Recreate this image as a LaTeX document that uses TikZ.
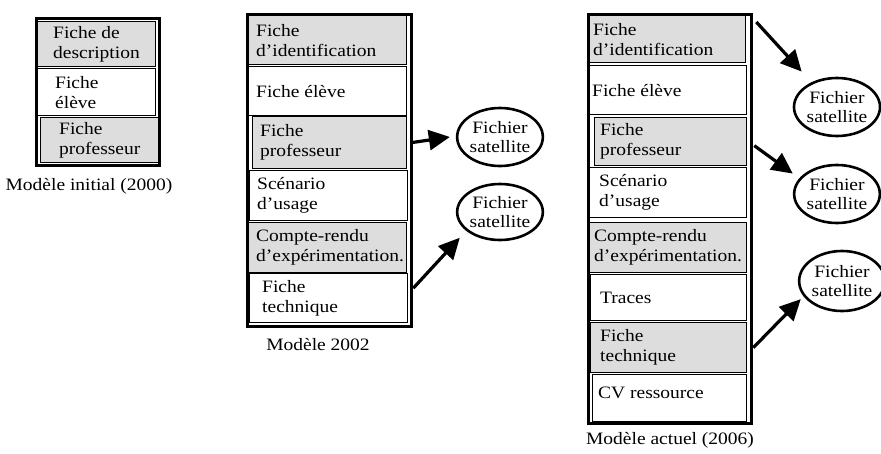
\documentclass[tikz,border=0pt]{standalone}
\usepackage{fontspec}
\setmainfont[FakeStretch=1.12]{Liberation Serif}
\usetikzlibrary{positioning,arrows.meta,shapes.geometric}
\definecolor{cellgray}{RGB}{221,221,221}
\tikzset{
  frame/.style={draw, line width=3.2pt, anchor=north west, inner sep=0pt},
  cell/.style={draw, line width=1.3pt, anchor=north west, inner sep=0pt},
  txt/.style={align=left, inner sep=0pt, font=\fontsize{17.4}{20}\selectfont},
  sat/.style={ellipse, draw, line width=2.6pt, inner sep=0pt, align=center,
    font=\fontsize{17.4}{19}\selectfont},
  arr/.style={line width=3.2pt, -{Triangle[length=21pt,width=20pt]}},
}
\begin{document}
\begin{tikzpicture}[x=1pt,y=1pt]
  \useasboundingbox (0,0) rectangle (881,-453);
  % Modele initial (2000)
  \node[frame, minimum width=123pt, minimum height=147pt] (m1) at (35,-17) {};
  \node[cell, fill=cellgray, minimum width=118pt, minimum height=45pt] (desc1) at (37,-21) {};
  \node[cell, fill=white, minimum width=118pt, minimum height=47pt] (el1) at (37,-68) {};
  \node[cell, fill=cellgray, minimum width=118pt, minimum height=45pt] (prof1) at (40,-117) {};
  \node[txt, right=16pt of desc1.west] (desc1t) {Fiche de\\description};
  \node[txt, right=18pt of el1.west] (el1t) {Fiche\\élève};
  \node[txt, right=19pt of prof1.west] (prof1t) {Fiche\\professeur};
  \node[txt] (cap1) at (89,-186) {Modèle initial (2000)};
  % Modele 2002
  \node[frame, minimum width=164pt, minimum height=312pt] (m2) at (246,-13) {};
  \node[cell, fill=cellgray, minimum width=158pt, minimum height=49pt] (id2) at (248,-15) {};
  \node[cell, fill=white, minimum width=158pt, minimum height=49pt] (el2) at (248,-66) {};
  \node[cell, fill=cellgray, minimum width=154pt, minimum height=52pt] (prof2) at (252,-116) {};
  \node[cell, fill=white, minimum width=158pt, minimum height=50pt] (scen2) at (249,-170) {};
  \node[cell, fill=cellgray, minimum width=158pt, minimum height=50pt] (cr2) at (248,-222) {};
  \node[cell, fill=white, minimum width=158pt, minimum height=49pt] (tech2) at (249,-273) {};
  \node[txt, right=8pt of id2.west] (id2t) {Fiche\\d’identification};
  \node[txt, right=8pt of el2.west] (el2t) {Fiche élève};
  \node[txt, right=8pt of prof2.west] (prof2t) {Fiche\\professeur};
  \node[txt, right=8pt of scen2.west] (scen2t) {Scénario\\d’usage};
  \node[txt, right=8pt of cr2.west] (cr2t) {Compte-rendu\\d’expérimentation.};
  \node[txt, right=13pt of tech2.west] (tech2t) {Fiche\\technique};
  \node[txt] (cap2) at (318,-345) {Modèle 2002};
  \node[sat, minimum width=82pt, minimum height=58pt] (sat2a) at (500,-137) {Fichier\\satellite};
  \node[sat, minimum width=82pt, minimum height=56pt] (sat2b) at (500,-212) {Fichier\\satellite};
  % Modele actuel (2006)
  \node[frame, minimum width=163pt, minimum height=409pt] (m3) at (587,-13) {};
  \node[cell, fill=cellgray, minimum width=156pt, minimum height=47pt] (id3) at (589,-15) {};
  \node[cell, fill=white, minimum width=157pt, minimum height=49pt] (el3) at (589,-65) {};
  \node[cell, fill=cellgray, minimum width=152pt, minimum height=48pt] (prof3) at (594,-117) {};
  \node[cell, fill=white, minimum width=157pt, minimum height=50pt] (scen3) at (589,-167) {};
  \node[cell, fill=cellgray, minimum width=157pt, minimum height=50pt] (cr3) at (589,-222) {};
  \node[cell, fill=white, minimum width=156pt, minimum height=46pt] (tr3) at (590,-274) {};
  \node[cell, fill=cellgray, minimum width=156pt, minimum height=50pt] (tech3) at (590,-322) {};
  \node[cell, fill=white, minimum width=154pt, minimum height=47pt] (cv3) at (592,-374) {};
  \node[txt, right=4pt of id3.west] (id3t) {Fiche\\d’identification};
  \node[txt, right=3pt of el3.west] (el3t) {Fiche élève};
  \node[txt, right=6pt of prof3.west] (prof3t) {Fiche\\professeur};
  \node[txt, right=10pt of scen3.west] (scen3t) {Scénario\\d’usage};
  \node[txt, right=5pt of cr3.west] (cr3t) {Compte-rendu\\d’expérimentation.};
  \node[txt, right=10pt of tr3.west] (tr3t) {Traces};
  \node[txt, right=10pt of tech3.west] (tech3t) {Fiche\\technique};
  \node[txt, right=6pt of cv3.west, yshift=5pt] (cv3t) {CV ressource};
  \node[txt] (cap3) at (670,-440) {Modèle actuel (2006)};
  \node[sat, minimum width=86pt, minimum height=58pt] (sat3a) at (837,-107) {Fichier\\satellite};
  \node[sat, minimum width=85pt, minimum height=58pt] (sat3b) at (837,-194) {Fichier\\satellite};
  \node[sat, minimum width=82pt, minimum height=60pt] (sat3c) at (842,-281) {Fichier\\satellite};
  % connectors
  \draw[arr] ([xshift=4pt]prof2.east) -- ([xshift=-6pt]sat2a.west);
  \draw[arr] ([xshift=5pt,yshift=10pt]tech2.east) -- ([xshift=-9pt,yshift=-5pt]sat2b.south west);
  \draw[arr] ([xshift=10pt,yshift=-7pt]id3.north east) -- ([xshift=-4pt,yshift=14pt]sat3a.north west);
  \draw[arr] ([xshift=7pt,yshift=-4pt]prof3.east) -- ([xshift=-13pt,yshift=-1pt]sat3b.north west);
  \draw[arr] ([xshift=6pt]tech3.east) -- ([xshift=-10pt,yshift=4pt]sat3c.south west);
\end{tikzpicture}
\end{document}
